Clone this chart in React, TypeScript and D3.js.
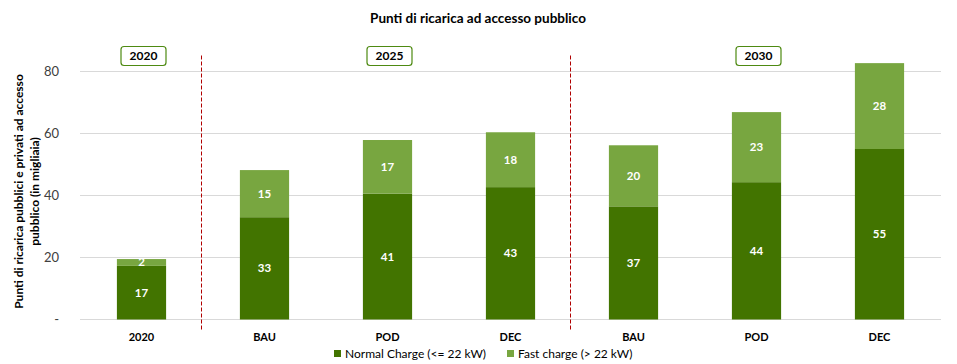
import React from "react";
import { scaleBand, scaleLinear, format } from "d3";

const categories = ["2020", "BAU", "POD", "DEC", "BAU", "POD", "DEC"];
const normalCharge = [17.3, 33.0, 40.6, 42.7, 36.5, 44.3, 55.0];
const fastCharge = [2.2, 15.2, 17.3, 17.7, 19.7, 22.6, 27.7];
const yTicks = [0, 20, 40, 60, 80];
const yearGroups = [
  { label: "2020", at: 0 },
  { label: "2025", at: 2 },
  { label: "2030", at: 5 },
];
const dividersBefore = [1, 4];
const seriesNames = ["Normal Charge (<= 22 kW)", "Fast charge (> 22 kW)"];

const width = 957;
const height = 364;
const margin = { top: 71.5, right: 16, bottom: 44.5, left: 80 };
const innerWidth = width - margin.left - margin.right;
const innerHeight = height - margin.top - margin.bottom;

const darkGreen = "#427400";
const lightGreen = "#78a640";
const font = "Lato, 'Open Sans', sans-serif";
const fmt = format(".0f");

const App = () => {
  const keys = categories.map((c, i) => i);
  const xScale = scaleBand<number>()
    .domain(keys)
    .range([0, innerWidth])
    .paddingInner(0.6)
    .paddingOuter(0.3);
  const yScale = scaleLinear().domain([0, 80]).range([innerHeight, 0]);
  const step = xScale.step();
  const bw = xScale.bandwidth();
  const colors = [darkGreen, lightGreen];

  return (
    <svg
      width={width}
      height={height}
      style={{ position: "absolute", left: 0, top: 0, background: "#fff" }}
      fontFamily={font}
    >
      <text
        x={478}
        y={23}
        textAnchor="middle"
        fontWeight="bold"
        fontSize={13.5}
        fill="#000"
      >
        Punti di ricarica ad accesso pubblico
      </text>

      <text
        transform={`translate(23,${margin.top + innerHeight / 2 - 4}) rotate(-90)`}
        textAnchor="middle"
        fontWeight="bold"
        fontSize={12}
        fill="#000"
      >
        <tspan x={0} dy={0}>
          Punti di ricarica pubblici e privati ad accesso
        </tspan>
        <tspan x={0} dy={16}>
          pubblico (in migliaia)
        </tspan>
      </text>

      <g transform={`translate(${margin.left},${margin.top})`}>
        {yTicks.map((t) => (
          <g key={t} transform={`translate(0,${yScale(t)})`}>
            <line x1={0} x2={innerWidth} stroke="#d9d9d9" strokeWidth={1} />
            <text
              x={-21}
              dy="0.35em"
              textAnchor="end"
              fontSize={13}
              fill="#404040"
            >
              {t === 0 ? "-" : t}
            </text>
          </g>
        ))}

        {dividersBefore.map((i) => {
          const x = Math.round(xScale(i)! - (step - bw) / 2 - 2) + 0.5;
          return (
            <line
              key={i}
              x1={x}
              x2={x}
              y1={-16}
              y2={innerHeight + 10}
              stroke="#b00000"
              strokeWidth={1}
              strokeDasharray="4,2"
            />
          );
        })}

        {keys.map((i) => {
          const x = xScale(i)!;
          const n = normalCharge[i];
          const f = fastCharge[i];
          return (
            <g key={i}>
              <rect
                x={x}
                y={yScale(n)}
                width={bw}
                height={innerHeight - yScale(n)}
                fill={darkGreen}
              />
              <rect
                x={x}
                y={yScale(n + f)}
                width={bw}
                height={yScale(n) - yScale(n + f)}
                fill={lightGreen}
              />
              <text
                x={x + bw / 2}
                y={(yScale(0) + yScale(n)) / 2}
                dy="0.35em"
                textAnchor="middle"
                fontWeight="bold"
                fontSize={11.5}
                fill="#fff"
              >
                {fmt(n)}
              </text>
              <text
                x={x + bw / 2}
                y={(yScale(n) + yScale(n + f)) / 2}
                dy="0.35em"
                textAnchor="middle"
                fontWeight="bold"
                fontSize={11.5}
                fill="#fff"
              >
                {fmt(f)}
              </text>
              <text
                x={x + bw / 2}
                y={innerHeight + 21}
                textAnchor="middle"
                fontWeight="bold"
                fontSize={11}
                fill="#000"
              >
                {categories[i]}
              </text>
            </g>
          );
        })}

        {yearGroups.map((g) => {
          const cx = xScale(g.at)! + bw / 2 + 2;
          return (
            <g key={g.label} transform={`translate(${cx},-15.5)`}>
              <rect
                x={-22.5}
                y={-9.5}
                width={45}
                height={19}
                rx={3}
                fill="#fff"
                stroke="#4e8a12"
                strokeWidth={1.2}
              />
              <text
                dy="0.35em"
                textAnchor="middle"
                fontWeight="bold"
                fontSize={12}
                fill="#000"
              >
                {g.label}
              </text>
            </g>
          );
        })}
      </g>

      <g transform="translate(334,354)">
        {seriesNames.map((s, i) => (
          <g key={s} transform={`translate(${i * 173},0)`}>
            <rect x={0} y={-4} width={7} height={7} fill={colors[i]} />
            <text x={11} dy="0.35em" fontSize={12} fill="#000">
              {s}
            </text>
          </g>
        ))}
      </g>
    </svg>
  );
};

export default App;
